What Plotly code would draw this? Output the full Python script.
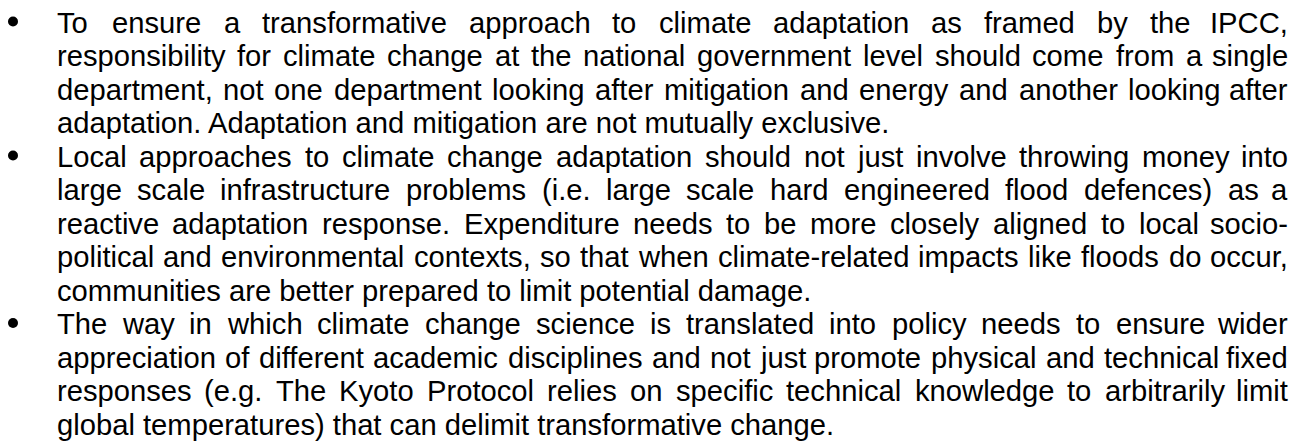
import plotly.graph_objects as go

# ---- content (text lines as laid out in the reference) ----
paragraph_1 = [
    "To ensure a transformative approach to climate adaptation as framed by the IPCC,",
    "responsibility for climate change at the national government level should come from a single",
    "department, not one department looking after mitigation and energy and another looking after",
    "adaptation. Adaptation and mitigation are not mutually exclusive.",
]
paragraph_2 = [
    "Local approaches to climate change adaptation should not just involve throwing money into",
    "large scale infrastructure problems (i.e. large scale hard engineered flood defences) as a",
    "reactive adaptation response. Expenditure needs to be more closely aligned to local socio-",
    "political and environmental contexts, so that when climate-related impacts like floods do occur,",
    "communities are better prepared to limit potential damage.",
]
paragraph_3 = [
    "The way in which climate change science is translated into policy needs to ensure wider",
    "appreciation of different academic disciplines and not just promote physical and technical fixed",
    "responses (e.g. The Kyoto Protocol relies on specific technical knowledge to arbitrarily limit",
    "global temperatures) that can delimit transformative change.",
]
paragraphs = [paragraph_1, paragraph_2, paragraph_3]

# ---- layout / style ----
W, H = 1309, 445
FONT = "Liberation Sans, Arial, Helvetica, sans-serif"
FS = 29.2
LEFT, RIGHT = 55.5, 1289
BULLET_X = 13
BULLET_SIZE = 10
BASE0 = 32.0
LINE_H = 33.5
ASCENT = 0.905
BULLET_RISE = 10.5

# Helvetica / Arial advance widths (1/1000 em)
AFM = {' ': 278, ',': 278, '-': 333, '.': 278, '(': 333, ')': 333,
       'A': 667, 'E': 667, 'I': 278, 'K': 667, 'L': 556, 'P': 667, 'C': 722, 'T': 611,
       'a': 556, 'b': 556, 'c': 500, 'd': 556, 'e': 556, 'f': 278, 'g': 556, 'h': 556,
       'i': 222, 'j': 222, 'k': 500, 'l': 222, 'm': 833, 'n': 556, 'o': 556, 'p': 556,
       'q': 556, 'r': 333, 's': 500, 't': 278, 'u': 556, 'v': 500, 'w': 722, 'x': 500,
       'y': 500, 'z': 500}


def width(s):
    return sum(AFM.get(ch, 556) for ch in s) * FS / 1000.0


annotations = []
bullet_x, bullet_y = [], []


def add_text(txt, x, base, anchor="left"):
    annotations.append(dict(
        x=x, y=base - ASCENT * FS, xref="x", yref="y",
        text=txt, showarrow=False, xanchor=anchor, yanchor="top",
        borderpad=0, font=dict(family=FONT, size=FS, color="#000000"),
    ))


line_no = 0
for para in paragraphs:
    for j, line in enumerate(para):
        base = BASE0 + line_no * LINE_H
        if j == 0:
            bullet_x.append(BULLET_X)
            bullet_y.append(base - BULLET_RISE)
        words = line.split(" ")
        last = (j == len(para) - 1)
        if last:
            add_text(line, LEFT, base)
        else:
            ws = [width(w) for w in words]
            gap = (RIGHT - LEFT - sum(ws)) / (len(words) - 1)
            x = LEFT
            for k, w in enumerate(words):
                if k == len(words) - 1:
                    add_text(w, RIGHT, base, anchor="right")
                else:
                    add_text(w, x, base)
                x += ws[k] + gap
        line_no += 1

fig = go.Figure(go.Scatter(
    x=bullet_x, y=bullet_y, mode="markers",
    marker=dict(symbol="circle", size=BULLET_SIZE, color="#000000", line=dict(width=0)),
    hoverinfo="skip", cliponaxis=False,
))
fig.update_layout(
    width=W, height=H, autosize=False,
    margin=dict(l=0, r=0, t=0, b=0),
    paper_bgcolor="white", plot_bgcolor="white",
    xaxis=dict(range=[0, W], visible=False, fixedrange=True),
    yaxis=dict(range=[H, 0], visible=False, fixedrange=True),
    annotations=annotations,
    showlegend=False,
)
fig.write_html(
    "out.html",
    config={"displayModeBar": False},
    post_script="document.body.style.margin='0';document.body.style.overflow='hidden';",
)
